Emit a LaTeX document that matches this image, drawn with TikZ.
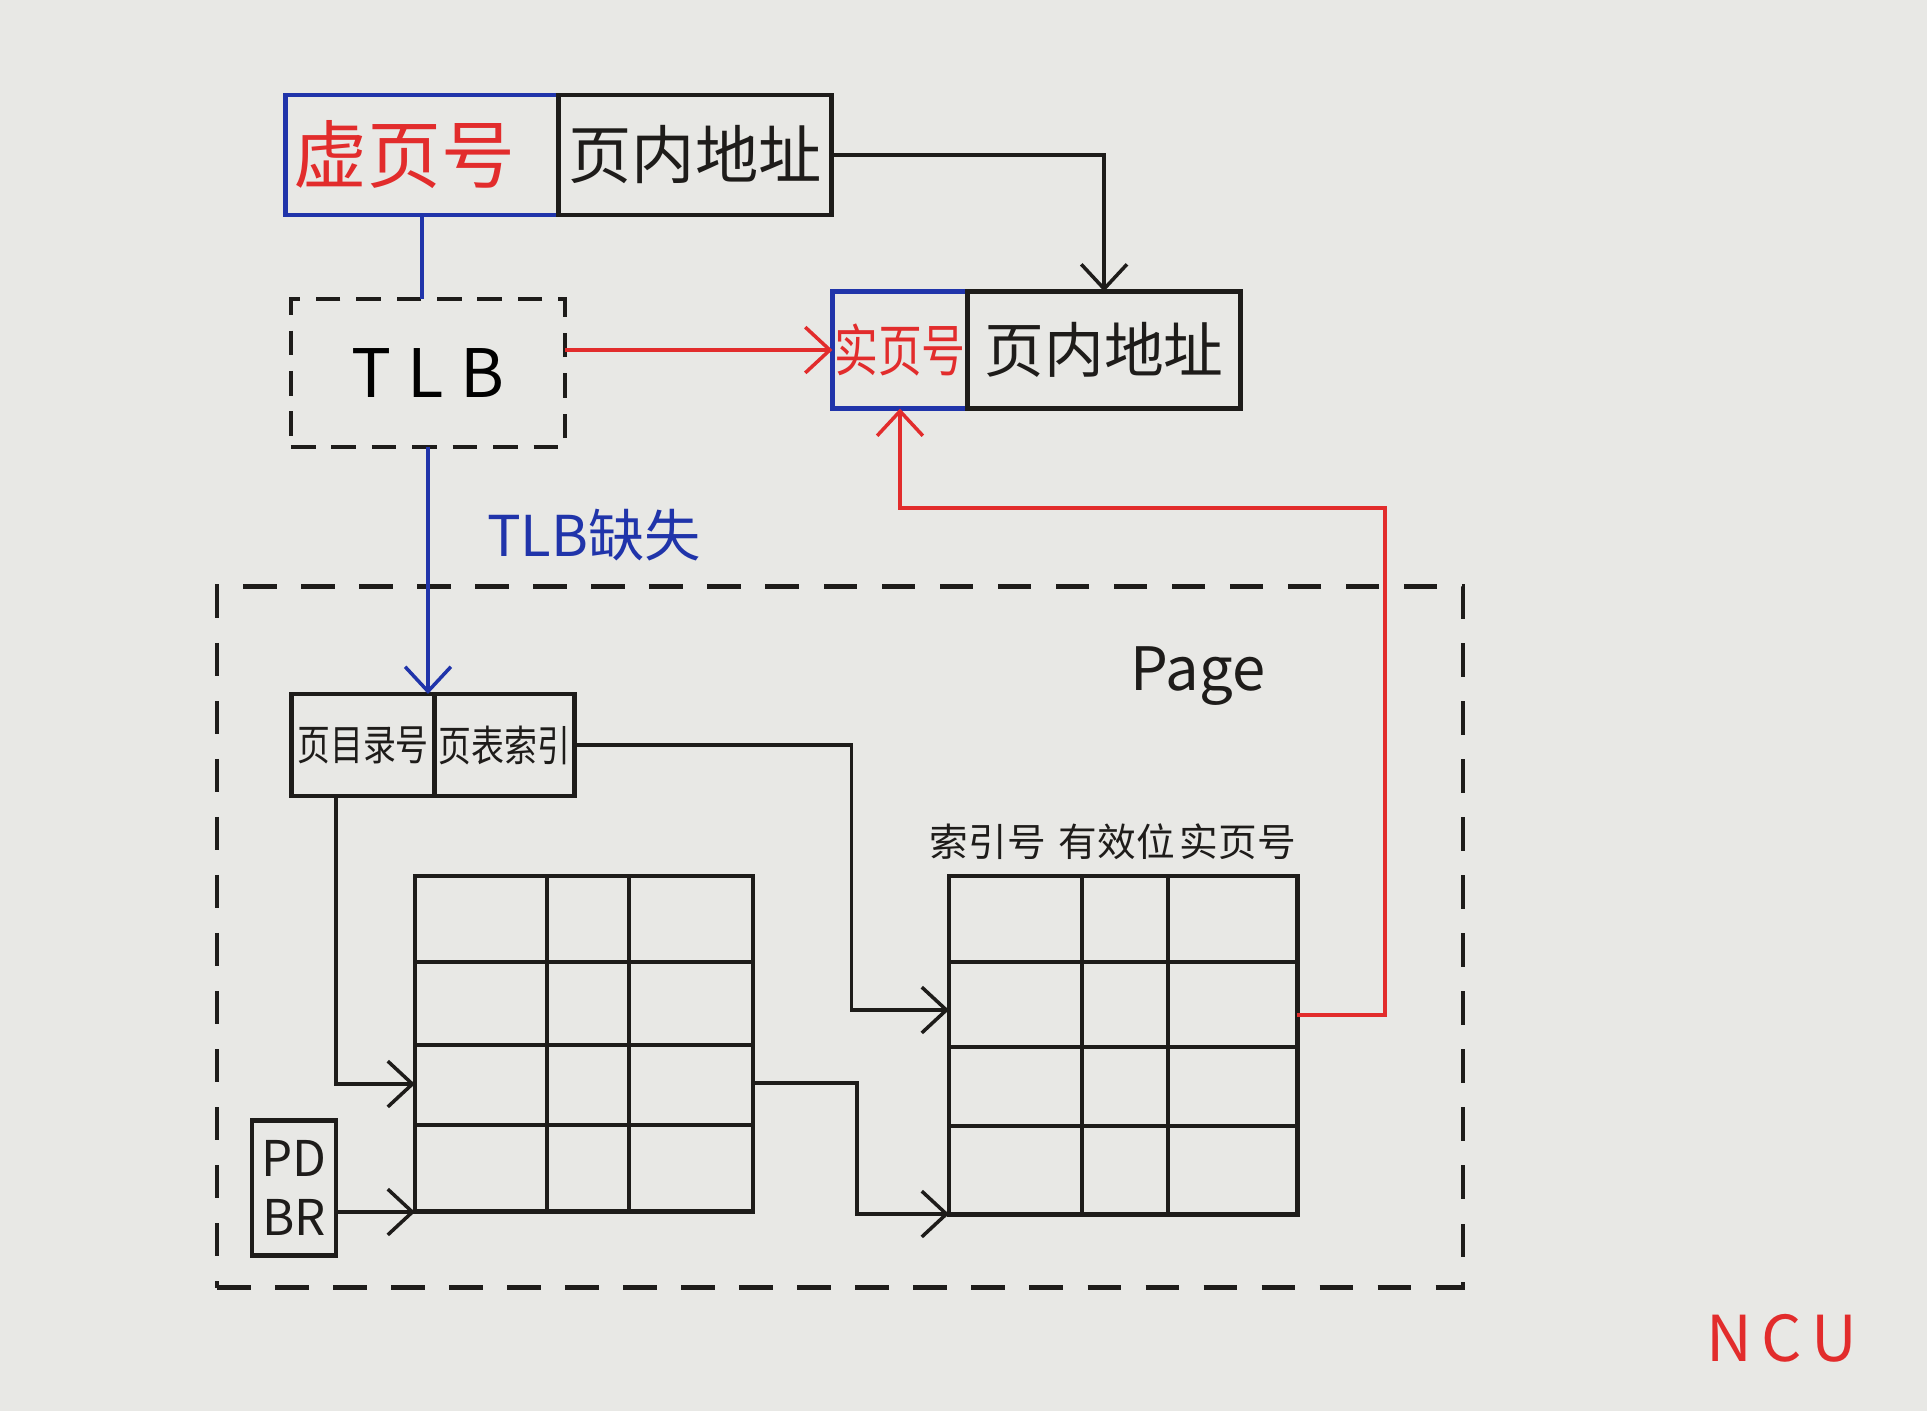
\documentclass[tikz,border=0pt]{standalone}
\usepackage{fontspec}
\setmainfont{Noto Sans CJK SC}
\usepackage{tikz}
\usetikzlibrary{arrows.meta}

\definecolor{paper}{RGB}{232,232,229}
\definecolor{inkblack}{RGB}{30,28,26}
\definecolor{inkblue}{RGB}{32,52,170}
\definecolor{inkred}{RGB}{226,44,44}
\newcommand{\narrow}[1]{\scalebox{0.78}[1]{#1}}

\begin{document}
\begin{tikzpicture}[x=0.01cm,y=-0.01cm,>={Straight Barb[length=7pt,width=13pt]}]
        \tikzstyle{arrow}=[->,draw=inkblack,line width=1pt];
        \tikzstyle{cell}=[draw=inkblack,line width=1.3pt,inner sep=0pt,outer sep=0pt,text=inkblack];
        \tikzstyle{dashbox}=[draw=inkblack,line width=1.3pt,dash pattern=on 7pt off 4.5pt,inner sep=0pt,outer sep=0pt];
        \tikzstyle{gridline}=[draw=inkblack,line width=1.3pt];
        \fill[paper] (0,0) rectangle (1927,1411);
        % virtual address
        \node[cell,draw=inkblue,text=inkred,minimum width=2.73cm,minimum height=1.2cm,font=\fontsize{21}{24}\selectfont] (vpn) at (422,155) {\hspace{-0.35cm}虚页号};
        \node[cell,anchor=west,minimum width=2.73cm,minimum height=1.2cm,font=\fontsize{18}{21}\selectfont] (voff) at (vpn.east) {页内地址};
        \node[dashbox,minimum width=2.74cm,minimum height=1.48cm,font=\fontsize{19}{23}\selectfont] (tlb) at (428,373) {T\hspace{0.25em}L\hspace{0.25em}B};
        \draw [inkblue,line width=1pt] (vpn.south) -- (vpn.south |- tlb.north);
        % physical address
        \node[cell,draw=inkblue,text=inkred,minimum width=1.35cm,minimum height=1.17cm,font=\fontsize{16}{19}\selectfont] (ppn) at (900,350) {\narrow{实页号}};
        \node[cell,anchor=west,minimum width=2.73cm,minimum height=1.17cm,font=\fontsize{17}{20}\selectfont] (roff) at (ppn.east) {页内地址};
        \draw [arrow] (voff.east) -| (roff.north);
        \draw [arrow,draw=inkred] (tlb.east |- ppn.west) -- (ppn.west);
        % page walk
        \node[dashbox,dash pattern=on 9.5pt off 7pt,minimum width=12.45cm,minimum height=7.01cm] (page) at (840,937) {};
        \node[font=\fontsize{17}{20}\selectfont,text=inkblack] (plabel) at (1198,676) {Page};
        \node[cell,minimum width=1.43cm,minimum height=1.02cm,font=\fontsize{12}{14}\selectfont] (pdn) at (363,745) {\narrow{页目录号}};
        \node[cell,anchor=west,minimum width=1.40cm,minimum height=1.02cm,font=\fontsize{12}{14}\selectfont] (pti) at (pdn.east) {\narrow{页表索引}};
        \draw [arrow,draw=inkblue] (tlb.south) -- (tlb.south |- pdn.north east);
        \node[text=inkblue,font=\fontsize{16}{19}\selectfont] (miss) at (594,535) {TLB缺失};
        \node[cell,minimum width=0.84cm,minimum height=1.35cm,align=center,font=\fontsize{14}{17}\selectfont] (pdbr) at (294,1188) {PD\\BR};
        % page directory
        \node[cell,minimum width=3.38cm,minimum height=3.35cm,anchor=north west] (pdt) at (415,876) {};
        \foreach \x in {547,629} \draw[gridline] (\x,876) -- (\x,1211);
        \foreach \y in {962,1045,1125} \draw[gridline] (415,\y) -- (753,\y);
        % page table
        \node[cell,minimum width=3.48cm,minimum height=3.38cm,anchor=north west] (ptt) at (949,876) {};
        \foreach \x in {1082,1168} \draw[gridline] (\x,876) -- (\x,1214);
        \foreach \y in {962,1047,1126} \draw[gridline] (949,\y) -- (1297,\y);
        \node[font=\fontsize{11}{13}\selectfont,text=inkblack] (hidx) at (988,842) {索引号};
        \node[font=\fontsize{11}{13}\selectfont,text=inkblack] (hval) at (1117,842) {有效位};
        \node[font=\fontsize{11}{13}\selectfont,text=inkblack] (hppn) at (1238,842) {实页号};
        % connectors
        \coordinate (pdnout) at (336,796);
        \coordinate (pdtrow) at (415,1084);
        \coordinate (pdtbase) at (415,1212);
        \coordinate (pdtout) at (753,1083);
        \coordinate (pttrow) at (949,1010);
        \coordinate (pttbase) at (949,1214);
        \coordinate (pttout) at (1297,1015);
        \coordinate (ret) at (1385,508);
        \draw [arrow] (pdnout) |- (pdtrow);
        \draw [arrow] (pdbr.east |- pdtbase) -- (pdtbase);
        \draw [arrow] (pti.east) --+(277,0) |- (pttrow);
        \draw [arrow] (pdtout) --+(104,0) |- (pttbase);
        \draw [arrow,draw=inkred] (pttout) -| (ret) -| (ppn.south);
        \node[text=inkred,font=\fontsize{18}{22}\selectfont] (sign) at (1782,1338) {N\hspace{0.15em}C\hspace{0.15em}U};
    \end{tikzpicture}
\end{document}
